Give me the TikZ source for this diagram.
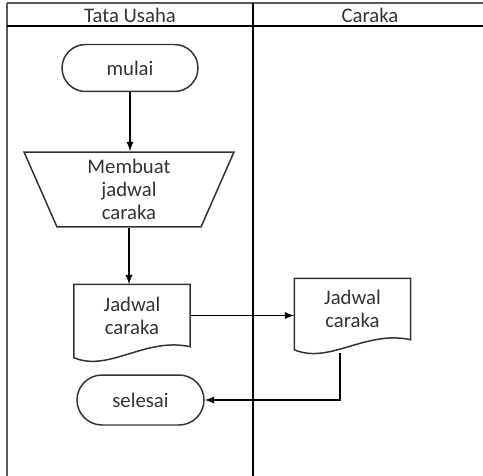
\documentclass[tikz,border=0pt]{standalone}
\usepackage{fontspec}
\setmainfont{Carlito}
\usepackage{tikz}
\usetikzlibrary{shapes.geometric,shapes.misc,arrows,positioning}

\begin{document}
\begin{tikzpicture}[x=0.02cm, y=-0.02cm, >=latex, line width=0.85pt,
   font=\fontsize{11.8}{13}\selectfont, text=black!80]
   \useasboundingbox (0,0) rectangle (483,476);
   % lanes
   \draw (7,3) -- (483,3) [line width=1.2pt, black!65];
   \draw (7,3) -- (7,476) [line width=1.2pt, black!65];
   \draw (7,26) -- (483,26) [line width=1.0pt];
   \draw (253,3) -- (253,476) [line width=1.0pt];
   \node (lane1) at (130,15) {Tata Usaha};
   \node (lane2) at (370,15) {Caraka};
   \begin{scope}[every node/.style={draw=black!80, align=center, inner sep=0pt}]
    \node (mulai) at (130,68) [rounded rectangle, minimum width=2.72cm, minimum height=0.94cm] {mulai};
    \node (buat) at (129,189.5) [trapezium, trapezium stretches body, shape border rotate=180,
       trapezium angle=61.3, minimum width=4.2cm, minimum height=1.5cm] {Membuat\\jadwal\\caraka};
    \node (ldoc) at (132,315.5) [draw=none, minimum width=2.3cm, minimum height=1.22cm] {Jadwal\\caraka};
    \node (rdoc) at (352.5,309) [draw=none, minimum width=2.3cm, minimum height=1.2cm] {Jadwal\\caraka};
    \node (selesai) at (140.5,400) [rounded rectangle, minimum width=2.54cm, minimum height=1.0cm] {selesai};
   \end{scope}
   % document outlines
   \draw[black!80] (ldoc.north west) -- (ldoc.north east) -- (ldoc.south east)
      .. controls +(-45,-10) and +(35,15) .. ([yshift=-6.2pt]ldoc.south west) -- cycle;
   \draw[black!80] (rdoc.north west) -- (rdoc.north east) -- (rdoc.south east)
      .. controls +(-45,-10) and +(35,15) .. ([yshift=-5.7pt]rdoc.south west) -- cycle;
   \coordinate (rwave) at (340,353);
   \begin{scope}[every path/.style={draw=black, ->}]
    \draw (mulai.south) -- (mulai.south |- buat.north);
    \draw (buat.south) -- (buat.south |- ldoc.north);
    \draw (ldoc.east) -- (ldoc.east -| rdoc.west);
    \draw (rwave) |- (selesai.east);
   \end{scope}
\end{tikzpicture}
\end{document}
